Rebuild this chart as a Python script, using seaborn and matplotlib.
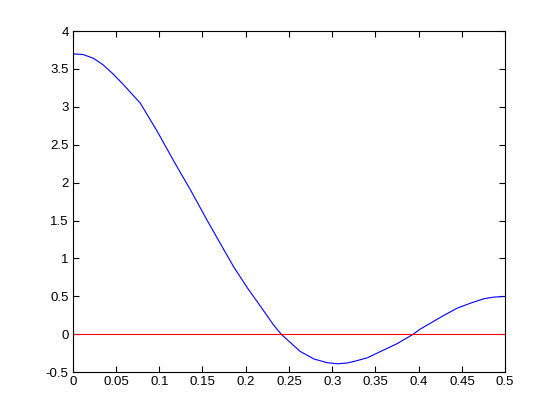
import matplotlib
matplotlib.use("Agg")
import matplotlib.pyplot as plt
import seaborn as sns

# valores
freq = [0, 0.012, 0.024, 0.035, 0.047, 0.058, 0.070, 0.078, 0.0975, 0.117,
        0.136, 0.155, 0.167, 0.186, 0.202, 0.217, 0.232, 0.241, 0.263,
        0.279, 0.294, 0.306, 0.317, 0.325, 0.341, 0.356, 0.375, 0.393,
        0.402, 0.414, 0.429, 0.445, 0.460, 0.4755, 0.487, 0.5]
resp = [3.70, 3.69, 3.64, 3.555, 3.43, 3.30, 3.15, 3.05, 2.68, 2.28,
        1.906, 1.511, 1.269, 0.89, 0.61, 0.37, 0.125, 0.0, -0.227,
        -0.327, -0.375, -0.39, -0.38, -0.36, -0.31, -0.227, -0.125, -0.005,
        0.069, 0.148, 0.248, 0.346, 0.41, 0.468, 0.49, 0.498]
zero_x = [0, 0.5]
zero_y = [0, 0]

xticks = [0, 0.05, 0.1, 0.15, 0.2, 0.25, 0.3, 0.35, 0.4, 0.45, 0.5]
xtick_labels = ['0', '0.05', '0.1', '0.15', '0.2', '0.25', '0.3', '0.35', '0.4', '0.45', '0.5']
yticks = [-0.5, 0, 0.5, 1, 1.5, 2, 2.5, 3, 3.5, 4]
ytick_labels = ['-0.5', '0', '0.5', '1', '1.5', '2', '2.5', '3', '3.5', '4']

sns.set_style("ticks")
plt.rcParams['font.family'] = ['Liberation Sans', 'DejaVu Sans']
plt.rcParams['xtick.direction'] = 'in'
plt.rcParams['ytick.direction'] = 'in'

fig = plt.figure(figsize=(5.6, 4.2), dpi=100)
ax = fig.add_axes([0.13, 0.114, 0.772, 0.812])

# curva e linha do zero
sns.lineplot(x=freq, y=resp, ax=ax, color='#0000ff', linewidth=0.8, estimator=None, sort=False)
sns.lineplot(x=zero_x, y=zero_y, ax=ax, color='#ff0000', linewidth=0.8, estimator=None)

ax.set_xlim(0, 0.5)
ax.set_ylim(-0.5, 4)
ax.set_xticks(xticks)
ax.set_xticklabels(xtick_labels)
ax.set_yticks(yticks)
ax.set_yticklabels(ytick_labels)
ax.tick_params(top=True, right=True, length=4, width=0.8, labelsize=9.5, pad=3, colors='black')
for s in ax.spines.values():
    s.set_visible(True)
    s.set_linewidth(0.8)
    s.set_color('black')

fig.savefig('out.png', dpi=100, facecolor='white')
